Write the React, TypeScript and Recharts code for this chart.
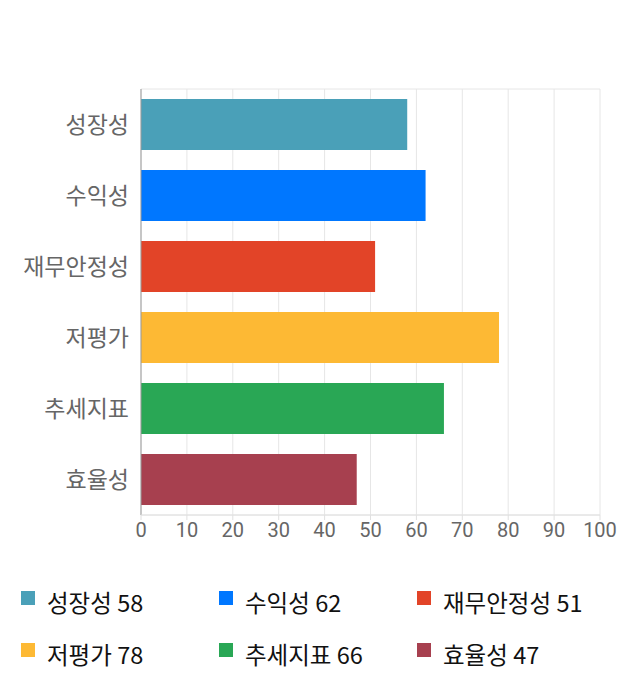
import { BarChart, Bar, XAxis, YAxis, CartesianGrid, Cell } from 'recharts'

const categories = ['성장성', '수익성', '재무안정성', '저평가', '추세지표', '효율성']
const scores = [58, 62, 51, 78, 66, 47]
const colors = ['#4aa0b8', '#0077ff', '#e24428', '#fdb934', '#29a755', '#a7404f']
const xTicks = [0, 10, 20, 30, 40, 50, 60, 70, 80, 90, 100]
// band edges for the horizontal grid lines
const bandEdges = [0, 1, 2, 3, 4, 5, 6]

const data = categories.map((name, i) => ({ name, value: scores[i] }))

const FONT = "Roboto, 'Noto Sans CJK KR', sans-serif"

export default function App() {
  return (
    <div style={{ position: 'absolute', left: 0, top: 0, width: 640, height: 700, background: '#fff', fontFamily: FONT }}>
      <BarChart
        width={640}
        height={560}
        data={data}
        layout="vertical"
        margin={{ top: 89, right: 40, bottom: 15, left: 0 }}
        barCategoryGap="14%"
      >
        <CartesianGrid stroke="#e6e6e6" yAxisId="edges" />
        <YAxis
          yAxisId="edges"
          type="number"
          domain={[0, 6]}
          ticks={bandEdges}
          width={0}
          tick={false}
          tickSize={11}
          tickLine={{ stroke: '#e6e6e6' }}
          axisLine={false}
        />
        <YAxis
          yAxisId="cat"
          type="category"
          dataKey="name"
          width={141}
          tickLine={false}
          tickMargin={6}
          axisLine={{ stroke: '#999' }}
          tick={{ fill: '#666', fontSize: 23, fontFamily: FONT }}
        />
        <XAxis
          type="number"
          domain={[0, 100]}
          ticks={xTicks}
          height={30}
          tickSize={5}
          tickMargin={3}
          tickLine={{ stroke: '#e0e0e0' }}
          axisLine={{ stroke: '#e0e0e0' }}
          tick={{ fill: '#666', fontSize: 20, fontFamily: FONT }}
        />
        <Bar dataKey="value" yAxisId="cat" isAnimationActive={false}>
          {data.map((d, i) => (
            <Cell key={d.name} fill={colors[i]} />
          ))}
        </Bar>
      </BarChart>
      <div
        style={{
          display: 'grid',
          gridTemplateColumns: '198px 198px 198px',
          rowGap: 22,
          marginLeft: 21,
          marginTop: 28,
        }}
      >
        {categories.map((name, i) => (
          <div key={name} style={{ display: 'flex', alignItems: 'flex-start', height: 30 }}>
            <div style={{ width: 14, height: 14, background: colors[i], marginTop: 3, marginRight: 12 }} />
            <span style={{ fontSize: 23.5, color: '#111', lineHeight: '28px', fontFamily: "'Noto Sans CJK KR', sans-serif" }}>
              {name} {scores[i]}
            </span>
          </div>
        ))}
      </div>
    </div>
  )
}
